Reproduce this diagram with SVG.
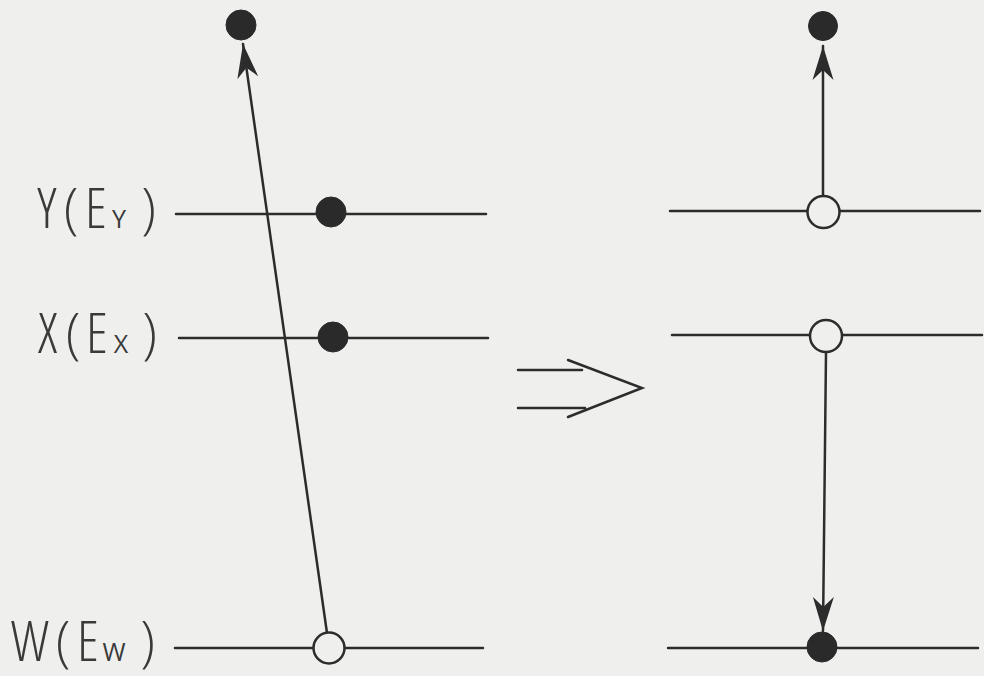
<svg xmlns="http://www.w3.org/2000/svg" width="984" height="676" viewBox="0 0 984 676">
  <style>
    .ln { stroke: #2c2c2c; stroke-width: 2.5; fill: none; stroke-linecap: round; }
    .full { fill: #2a2a2a; stroke: #2a2a2a; stroke-width: 1; }
    .empty { fill: #efefed; stroke: #2c2c2c; stroke-width: 2.5; }
    .lbl { font-family: "Open Sans", "DejaVu Sans", sans-serif; font-weight: 300; font-stretch: 75%; font-size: 56px; fill: #3a3a3a; text-anchor: middle; }
    .sub { font-size: 25px; font-stretch: 100%; font-weight: 400; }
  </style>
  <defs>
    <marker id="ah" markerUnits="userSpaceOnUse" viewBox="0 -11 34 22" refX="34" refY="0" markerWidth="34" markerHeight="22" orient="auto">
      <path d="M34,0 L0,-10.5 L10,0 L0,10.5 Z" fill="#2c2c2c"/>
    </marker>
  </defs>
  <rect x="0" y="0" width="984" height="676" fill="#efefed"/>

  <g id="labels">
    <text class="lbl" y="228"><tspan x="47">Y</tspan><tspan x="71">(</tspan><tspan x="96">E</tspan><tspan class="sub" x="119">Y</tspan><tspan x="149">)</tspan></text>
    <text class="lbl" y="353"><tspan x="47.5">X</tspan><tspan x="73">(</tspan><tspan x="97">E</tspan><tspan class="sub" x="121">X</tspan><tspan x="150">)</tspan></text>
    <text class="lbl" y="661"><tspan x="30">W</tspan><tspan x="63">(</tspan><tspan x="88">E</tspan><tspan class="sub" x="114">W</tspan><tspan x="148">)</tspan></text>
  </g>

  <g id="levels-left">
    <line class="ln" x1="176" y1="214" x2="486" y2="214"/>
    <line class="ln" x1="179" y1="338" x2="488" y2="338"/>
    <line class="ln" x1="175" y1="648" x2="483" y2="648"/>
  </g>
  <g id="levels-right">
    <line class="ln" x1="670" y1="211" x2="980" y2="211"/>
    <line class="ln" x1="672" y1="335" x2="982" y2="335"/>
    <line class="ln" x1="668" y1="648" x2="978" y2="648"/>
  </g>

  <g id="connectors">
    <line class="ln" x1="327" y1="633" x2="243" y2="44" marker-end="url(#ah)"/>
    <line class="ln" x1="823" y1="196" x2="823" y2="46" marker-end="url(#ah)"/>
    <line class="ln" x1="826" y1="352" x2="823" y2="631" marker-end="url(#ah)"/>
  </g>

  <g id="left-top-dot"><circle class="full" cx="241" cy="25" r="15"/></g>
  <g id="left-y-dot"><circle class="full" cx="331" cy="212" r="15"/></g>
  <g id="left-x-dot"><circle class="full" cx="333" cy="337" r="15"/></g>
  <g id="left-w-hole"><circle class="empty" cx="329" cy="648" r="15.5"/></g>

  <g id="right-top-dot"><circle class="full" cx="823" cy="26" r="14.5"/></g>
  <g id="right-y-hole"><circle class="empty" cx="823.5" cy="212" r="16"/></g>
  <g id="right-x-hole"><circle class="empty" cx="826" cy="336" r="16"/></g>
  <g id="right-w-dot"><circle class="full" cx="822" cy="647" r="15"/></g>

  <g id="implies">
    <line class="ln" x1="518" y1="370" x2="582" y2="370"/>
    <line class="ln" x1="518" y1="408" x2="585" y2="408"/>
    <polyline class="ln" points="568,360 642,388 568,417" stroke-linejoin="miter"/>
  </g>
</svg>
